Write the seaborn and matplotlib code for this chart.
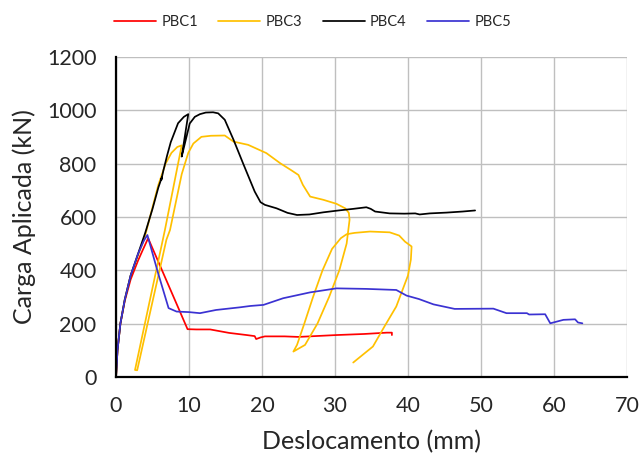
import pandas as pd
import matplotlib.pyplot as plt
import seaborn as sns

# -----------------------------
# Data
# -----------------------------
pbc1_x = [0, 0.2, 0.6, 1.2, 2.0, 3.0, 3.7, 4.4, 9.8, 11.0, 12.9, 15.5, 17.9, 19.0, 19.2,
          19.8, 20.4, 23.1, 25.0, 30.2, 34.0, 37.1, 37.8, 37.8]
pbc1_y = [0, 100, 200, 285, 365, 435, 478, 520, 179, 178, 178, 165, 157, 153, 142,
          148, 152, 152, 150, 157, 161, 166, 166, 157]

pbc3_x = [0, 0.2, 0.6, 1.2, 2.0, 3.0, 3.9, 4.8, 5.8, 6.8, 7.6, 8.4, 9.0,
          6.7, 4.5, 2.6, 2.9, 4.9, 6.9, 7.4, 9.0, 9.9, 10.6, 11.7, 13.0, 14.9,
          16.1, 18.1, 20.6, 22.5, 24.0, 25.0, 25.6, 26.6, 28.4, 30.2, 31.4, 31.9, 32.0,
          31.6, 30.6, 29.2, 27.6, 25.9, 24.3, 24.8, 25.8, 27.0, 28.3, 29.6, 30.8, 31.6,
          32.7, 34.8, 37.5, 38.8, 39.6, 40.5, 40.4, 40.0, 38.4, 36.8, 35.2, 32.5]
pbc3_y = [0, 100, 200, 290, 380, 455, 520, 615, 720, 800, 840, 862, 868,
          551, 270, 26, 25, 270, 514, 551, 760, 840, 875, 900, 904, 905,
          882, 870, 839, 801, 775, 757, 720, 676, 664, 649, 632, 615, 589,
          500, 400, 300, 200, 120, 95, 120, 200, 300, 400, 480, 520, 535,
          540, 545, 542, 530, 507, 489, 440, 380, 264, 190, 114, 54]

pbc4_x = [0, 0.2, 0.6, 1.2, 2.0, 3.0, 4.0, 5.0, 5.8, 6.3, 6.2, 6.5, 7.0, 7.5, 8.5,
          9.3, 9.9, 9.0, 9.3, 9.7, 10.1, 10.8, 11.5, 12.3, 13.3, 14.0, 14.9, 16.1,
          17.4, 19.0, 19.8, 20.4, 22.0, 23.5, 24.8, 26.5, 28.4, 30.5, 32.5, 34.3,
          34.9, 35.5, 37.5, 39.5, 41.0, 41.6, 43.0, 45.3, 47.5, 49.2]
pbc4_y = [0, 100, 200, 290, 380, 460, 540, 630, 710, 750, 738, 775, 830, 880, 951,
          975, 985, 826, 860, 905, 950, 975, 985, 991, 992, 988, 964, 889,
          801, 695, 655, 645, 632, 615, 607, 609, 617, 624, 630, 636,
          630, 620, 613, 612, 613, 609, 613, 616, 620, 624]

pbc5_x = [0, 0.2, 0.6, 1.2, 2.0, 3.0, 3.8, 4.3, 5.7, 7.2, 8.3, 10.0, 11.5, 13.7,
          17.0, 18.4, 20.2, 22.9, 26.6, 30.2, 34.3, 38.4, 39.8, 41.5, 43.5, 46.4,
          51.7, 53.5, 56.3, 56.6, 58.8, 59.5, 61.3, 62.9, 63.3, 63.9]
pbc5_y = [0, 100, 200, 290, 380, 460, 510, 532, 395, 258, 245, 243, 239, 251,
          261, 266, 270, 295, 317, 332, 330, 326, 305, 292, 272, 255,
          256, 239, 239, 234, 235, 201, 214, 216, 204, 201]

series = {"PBC1": (pbc1_x, pbc1_y), "PBC3": (pbc3_x, pbc3_y),
          "PBC4": (pbc4_x, pbc4_y), "PBC5": (pbc5_x, pbc5_y)}
colors = {"PBC1": "#FF0000", "PBC3": "#FFC000", "PBC4": "#000000", "PBC5": "#3B32D2"}

df = pd.concat([pd.DataFrame({"x": x, "y": y, "ensaio": k}) for k, (x, y) in series.items()],
               ignore_index=True)

# -----------------------------
# Style
# -----------------------------
sns.set_style("whitegrid")
plt.rcParams["font.family"] = ["Lato", "DejaVu Sans"]

fig, ax = plt.subplots(figsize=(6.41, 4.58), dpi=100)
fig.subplots_adjust(left=0.181, right=0.978, bottom=0.177, top=0.876)

sns.lineplot(data=df, x="x", y="y", hue="ensaio", palette=colors,
             sort=False, estimator=None, linewidth=1.25, ax=ax, legend=False)

ax.set_xlim(0, 70)
ax.set_ylim(0, 1200)
ax.set_xticks(range(0, 71, 10))
ax.set_yticks(range(0, 1201, 200))
ax.grid(True, color="#BFBFBF", linewidth=1.0)
ax.tick_params(axis="both", labelsize=15.5, pad=14, length=0)

for s in ["top", "right"]:
    ax.spines[s].set_visible(False)
for s in ["left", "bottom"]:
    ax.spines[s].set_color("black")
    ax.spines[s].set_linewidth(1.6)

ax.set_xlabel("Deslocamento (mm)", fontsize=18, labelpad=10)
ax.set_ylabel("Carga Aplicada (kN)", fontsize=18, labelpad=8)

handles = [plt.Line2D([], [], color=colors[k], linewidth=1.25) for k in series]
fig.legend(handles, list(series), loc="upper center", bbox_to_anchor=(0.4875, 0.995),
           ncol=4, frameon=False, fontsize=10.5, handlelength=2.9, handletextpad=0.35,
           columnspacing=1.4)

fig.savefig("out.png", dpi=100)
